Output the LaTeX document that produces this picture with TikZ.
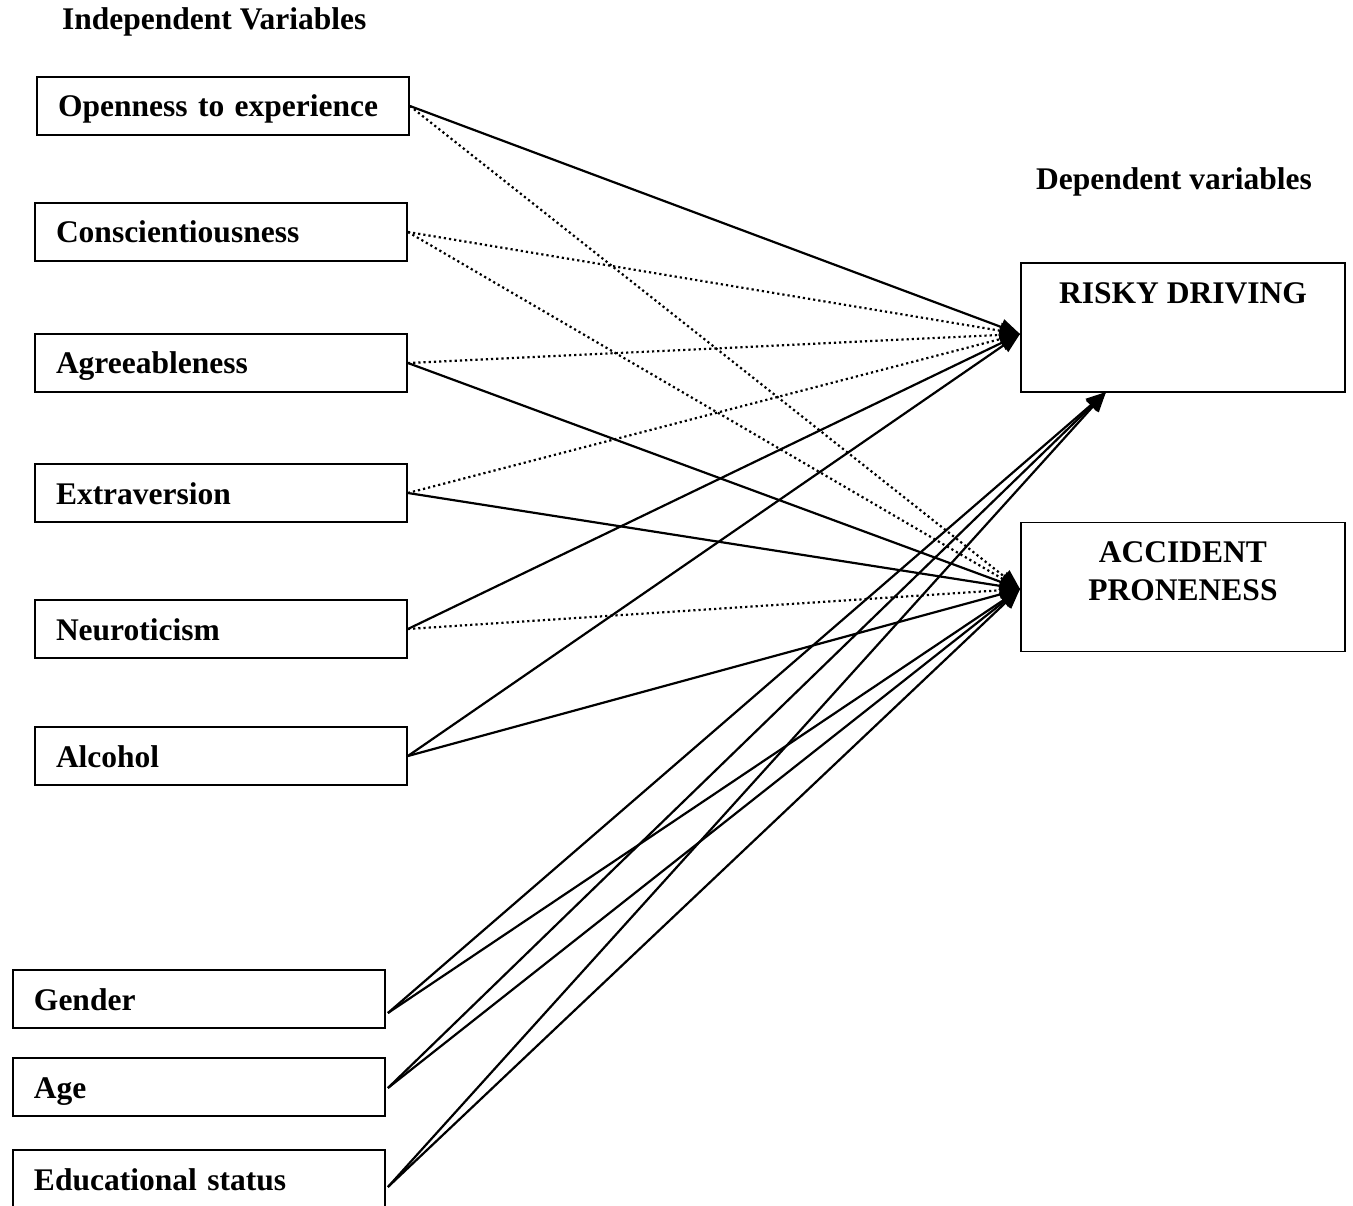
\documentclass[tikz,border=0pt]{standalone}
\usepackage{fontspec}
\setmainfont{Liberation Serif}
\usetikzlibrary{arrows.meta,calc}
\begin{document}
\begin{tikzpicture}[x=1pt,y=-1pt,
  lbl/.style={font=\fontsize{31.5}{38}\selectfont\bfseries,inner sep=0pt},
  ivbox/.style={draw,line width=1.8pt,rectangle,minimum height=58pt,minimum width=372pt,
    text width=330pt,text height=26pt,text depth=4pt,align=left,inner sep=0pt,
    font=\fontsize{31.5}{38}\selectfont\bfseries},
  dvbox/.style={draw,line width=1.8pt,rectangle,minimum height=129pt,minimum width=324pt,inner sep=0pt},
  link/.style={line width=2.2pt,-{Triangle[length=20pt,width=16pt]}},
  dlink/.style={link,dash pattern=on 2.2pt off 3pt}
]
\useasboundingbox (0,0) rectangle (1353,1206);

% headings
\node[lbl,anchor=base west] (ivh) at (62,30) {Independent Variables};
\node[lbl,anchor=base west] (dvh) at (1036,190) {Dependent variables};

% independent variable boxes
\node[ivbox] (op) at (223,106) {Openness to experience};
\node[ivbox] (co) at (221,232) {Conscientiousness};
\node[ivbox] (ag) at (221,363) {Agreeableness};
\node[ivbox] (ex) at (221,493) {Extraversion};
\node[ivbox] (ne) at (221,629) {Neuroticism};
\node[ivbox] (al) at (221,756) {Alcohol};
\node[ivbox] (ge) at (199,999) {Gender};
\node[ivbox] (ag2) at (199,1087) {Age};
\node[ivbox] (ed) at (199,1179) {Educational status};

% dependent variable boxes
\node[dvbox] (rd) at (1183,327.5) {};
\node[lbl,anchor=base] (rdt) at (1183,304) {RISKY DRIVING};
\node[dvbox] (ap) at (1183,587) {};
\node[lbl,align=center] (apt) at (1183,571) {ACCIDENT\\PRONENESS};

% targets
\coordinate (rdin) at (1020,334);
\coordinate (rdbot) at (1106,392);
\coordinate (apin) at (1020,589);

% start points for demographic boxes
\coordinate (ges) at ($(ge.east)+(2,14)$);
\coordinate (ags) at ($(ag2.east)+(2,1)$);
\coordinate (eds) at ($(ed.east)+(2,8)$);

% personality connectors
\draw[link]  (op.east) -- (rdin);
\draw[dlink] (op.east) -- (apin);
\draw[dlink] (co.east) -- (rdin);
\draw[dlink] (co.east) -- (apin);
\draw[dlink] (ag.east) -- (rdin);
\draw[link]  (ag.east) -- (apin);
\draw[dlink] (ex.east) -- (rdin);
\draw[link]  (ex.east) -- (apin);
\draw[link]  (ne.east) -- (rdin);
\draw[dlink] (ne.east) -- (apin);
\draw[link]  (al.east) -- (rdin);
\draw[link]  (al.east) -- (apin);

% demographic connectors
\draw[link] (ges) -- (rdbot);
\draw[link] (ges) -- (apin);
\draw[link] (ags) -- (rdbot);
\draw[link] (ags) -- (apin);
\draw[link] (eds) -- (rdbot);
\draw[link] (eds) -- (apin);
\end{tikzpicture}
\end{document}
